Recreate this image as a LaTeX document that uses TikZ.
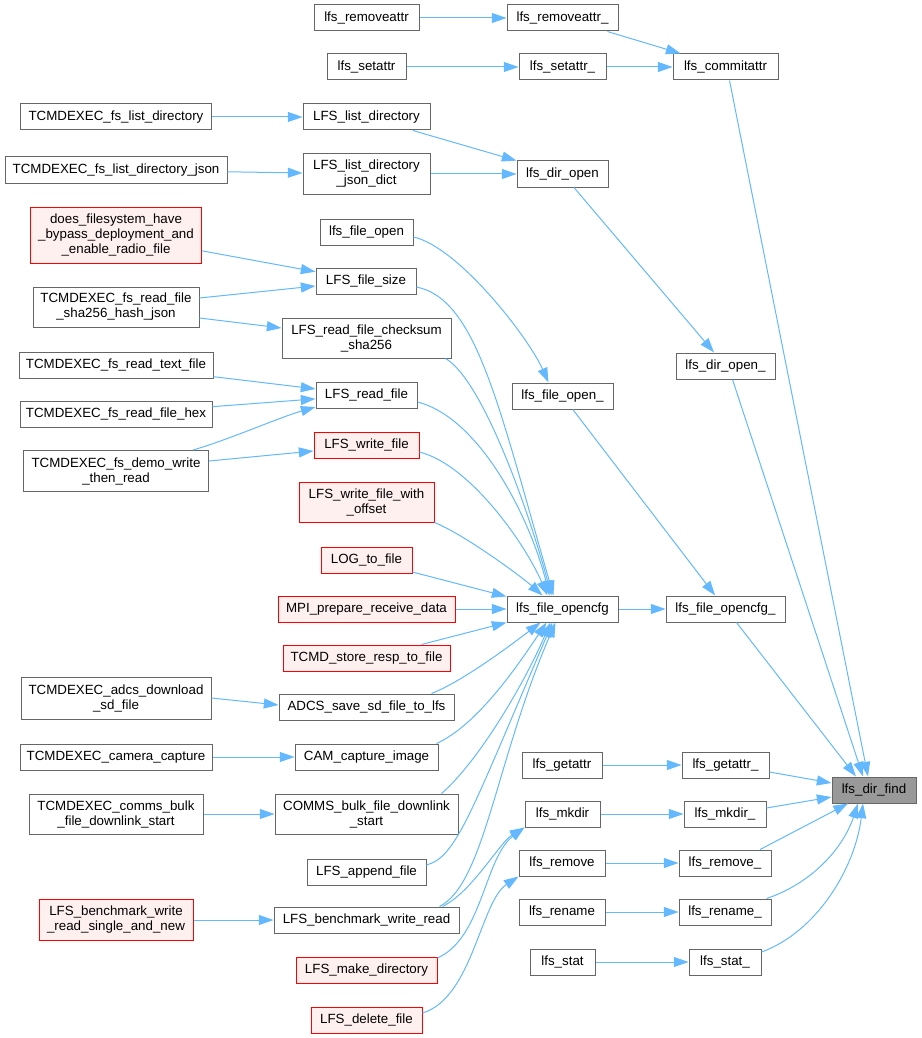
\documentclass[tikz,border=0pt]{standalone}
\usepackage{fontspec}
\setmainfont{Liberation Sans}
\usetikzlibrary{calc,arrows.meta}
\definecolor{boxgray}{HTML}{666666}
\definecolor{hotborder}{HTML}{FF0000}
\definecolor{hotfill}{HTML}{FFF0F0}
\definecolor{findfill}{HTML}{999999}
\definecolor{connblue}{HTML}{63B8FF}
\tikzset{
  box/.style={draw=boxgray, fill=white, line width=0.75pt, inner sep=0pt, align=center,
    font=\fontsize{10}{11.25}\selectfont},
  hot/.style={box, draw=hotborder, fill=hotfill},
  findbox/.style={box, fill=findfill},
  sz/.style 2 args={minimum width=#1*0.75pt, minimum height=#2*0.75pt},
  conn/.style={draw=connblue, line width=0.75pt, -{Triangle[length=11pt,width=7.5pt]}},
}
\begin{document}
\begin{tikzpicture}[x=0.75pt,y=-0.75pt]
\useasboundingbox (0,0) rectangle (921,1038);
% ---------- column 1 ----------
\node[box,sz={191}{26}] (listdirT) at (116,117) {TCMDEXEC\_fs\_list\_directory};
\node[box,sz={222}{26}] (listjsonT) at (116,170) {TCMDEXEC\_fs\_list\_directory\_json};
\node[hot,sz={171}{56}] (does) at (116,235) {does\_filesystem\_have\\\_bypass\_deployment\_and\\\_enable\_radio\_file};
\node[box,sz={166}{40}] (shaT) at (116,307) {TCMDEXEC\_fs\_read\_file\\\_sha256\_hash\_json};
\node[box,sz={194}{26}] (readtextT) at (116,365) {TCMDEXEC\_fs\_read\_text\_file};
\node[box,sz={192}{26}] (readhexT) at (116,414) {TCMDEXEC\_fs\_read\_file\_hex};
\node[box,sz={185}{41}] (demoT) at (116,471) {TCMDEXEC\_fs\_demo\_write\\\_then\_read};
\node[box,sz={190}{42}] (adcsT) at (116,698) {TCMDEXEC\_adcs\_download\\\_sd\_file};
\node[box,sz={192}{26}] (camT) at (116,757) {TCMDEXEC\_camera\_capture};
\node[box,sz={174}{40}] (commsT) at (116,814) {TCMDEXEC\_comms\_bulk\\\_file\_downlink\_start};
\node[hot,sz={154}{41}] (benchT) at (116,920) {LFS\_benchmark\_write\\\_read\_single\_and\_new};
% ---------- column 2 ----------
\node[box,sz={105}{26}] (removeattr) at (366.5,18) {lfs\_removeattr};
\node[box,sz={79}{26}] (setattr) at (366.5,67) {lfs\_setattr};
\node[box,sz={127}{26}] (lfslistdir) at (366.5,117) {LFS\_list\_directory};
\node[box,sz={127}{40}] (lfslistjson) at (366.5,174) {LFS\_list\_directory\\\_json\_dict};
\node[box,sz={93}{26}] (fileopen) at (366.5,232) {lfs\_file\_open};
\node[box,sz={100}{26}] (filesize) at (366,281) {LFS\_file\_size};
\node[box,sz={169}{40}] (checksum) at (366.5,338) {LFS\_read\_file\_checksum\\\_sha256};
\node[box,sz={101}{26}] (readfile) at (366.5,395) {LFS\_read\_file};
\node[hot,sz={105}{26}] (writefile) at (366.5,445) {LFS\_write\_file};
\node[hot,sz={135}{40}] (writeoffset) at (366.5,502) {LFS\_write\_file\_with\\\_offset};
\node[hot,sz={91}{26}] (logtofile) at (366.5,560) {LOG\_to\_file};
\node[hot,sz={177}{26}] (mpi) at (366.5,609) {MPI\_prepare\_receive\_data};
\node[hot,sz={167}{26}] (tcmdstore) at (366.5,658) {TCMD\_store\_resp\_to\_file};
\node[box,sz={175}{26}] (adcs) at (366.5,707) {ADCS\_save\_sd\_file\_to\_lfs};
\node[box,sz={143}{26}] (cam) at (366.5,757) {CAM\_capture\_image};
\node[box,sz={183}{40}] (comms) at (366.5,814) {COMMS\_bulk\_file\_downlink\\\_start};
\node[box,sz={119}{26}] (append) at (366.5,872) {LFS\_append\_file};
\node[box,sz={185}{26}] (bench) at (366.5,920) {LFS\_benchmark\_write\_read};
\node[hot,sz={141}{26}] (makedir) at (366.5,970) {LFS\_make\_directory};
\node[hot,sz={111}{26}] (delete) at (366.5,1020) {LFS\_delete\_file};
% ---------- column 3 ----------
\node[box,sz={111}{26}] (removeattrU) at (562.5,18) {lfs\_removeattr\_};
\node[box,sz={87}{26}] (setattrU) at (562.5,67) {lfs\_setattr\_};
\node[box,sz={91}{26}] (diropen) at (562.5,174) {lfs\_dir\_open};
\node[box,sz={101}{26}] (fileopenU) at (562.5,396) {lfs\_file\_open\_};
\node[box,sz={111}{26}] (opencfg) at (562.5,609) {lfs\_file\_opencfg};
\node[box,sz={80}{26}] (getattr) at (562,765) {lfs\_getattr};
\node[box,sz={75}{26}] (mkdir) at (562.5,814) {lfs\_mkdir};
\node[box,sz={86}{26}] (remove) at (562,863) {lfs\_remove};
\node[box,sz={86}{26}] (rename) at (562,912) {lfs\_rename};
\node[box,sz={65}{26}] (stat) at (562.5,962) {lfs\_stat};
% ---------- column 4 ----------
\node[box,sz={105}{26}] (commitattr) at (725.5,67) {lfs\_commitattr};
\node[box,sz={99}{26}] (diropenU) at (725.5,366) {lfs\_dir\_open\_};
\node[box,sz={119}{26}] (opencfgU) at (725.5,609) {lfs\_file\_opencfg\_};
\node[box,sz={87}{26}] (getattrU) at (725.5,765) {lfs\_getattr\_};
\node[box,sz={82}{26}] (mkdirU) at (725,814) {lfs\_mkdir\_};
\node[box,sz={92}{26}] (removeU) at (725,863) {lfs\_remove\_};
\node[box,sz={92}{26}] (renameU) at (725,912) {lfs\_rename\_};
\node[box,sz={72}{26}] (statU) at (725,962) {lfs\_stat\_};
% ---------- column 5 ----------
\node[findbox,sz={84}{26}] (dirfind) at (874,790) {lfs\_dir\_find};

% ---------- connectors ----------
\draw[conn] (removeattr) -- (removeattrU);
\draw[conn] (setattr) -- (setattrU);
\draw[conn] (removeattrU) -- (commitattr);
\draw[conn] (setattrU) -- (commitattr);
\draw[conn] ($(commitattr.south)+(4,0)$) -- ($(dirfind.north)+(-6,0)$);
\draw[conn] (listdirT) -- (lfslistdir);
\draw[conn] (listjsonT) -- (lfslistjson);
\draw[conn] (lfslistdir) -- (diropen);
\draw[conn] (lfslistjson) -- (diropen);
\draw[conn] (diropen) -- (diropenU);
\draw[conn] ($(diropenU.south)+(7,0)$) -- ($(dirfind.north)+(-11,0)$);
\draw[conn] (does) -- (filesize);
\draw[conn] ($(shaT.east)+(0,-9)$) -- ($(filesize.west)+(0,5)$);
\draw[conn] ($(shaT.east)+(0,11)$) -- ($(checksum.west)+(0,-10)$);
\draw[conn] ($(fileopen.east)+(0,5)$) .. controls +(45,10) and +(-20,-45) .. ($(fileopenU.north)+(-14,0)$);
\draw[conn] (fileopenU) -- (opencfgU);
\draw[conn] ($(filesize.east)+(0,6)$) .. controls +(60,12) and +(-55,-190) .. ($(opencfg.north)+(-9,0)$);
\draw[conn] ($(checksum.south east)+(-6,0)$) .. controls +(35,20) and +(-26,-96) .. ($(opencfg.north)+(-11,0)$);
\draw[conn] (readtextT) -- (readfile);
\draw[conn] (readhexT) -- (readfile);
\draw[conn] ($(demoT.north)+(77,0)$) .. controls +(35,-10) and +(-35,10) .. ($(readfile.west)+(0,12)$);
\draw[conn] ($(demoT.east)+(0,-10)$) -- ($(writefile.west)+(0,6)$);
\draw[conn] ($(readfile.east)+(0,7)$) .. controls +(63,16) and +(-19,-76) .. ($(opencfg.north)+(-13,0)$);
\draw[conn] ($(writefile.east)+(0,7)$) .. controls +(51,13) and +(-22,-51) .. ($(opencfg.north)+(-15,0)$);
\draw[conn] (writeoffset.south east) .. controls +(30,12) and +(-20,-18) .. ($(opencfg.north)+(-20,0)$);
\draw[conn] ($(logtofile.east)+(0,12)$) -- ($(opencfg.north west)+(0,1)$);
\draw[conn] (mpi) -- (opencfg);
\draw[conn] ($(tcmdstore.north)+(55,0)$) -- (opencfg.south west);
\draw[conn] (adcsT.east) -- ($(adcs.west)+(0,-2)$);
\draw[conn] ($(adcs.north)+(65,0)$) .. controls +(33,-13) and +(-25,19) .. ($(opencfg.south)+(-22,0)$);
\draw[conn] (camT) -- (cam);
\draw[conn] ($(cam.north)+(70,0)$) .. controls +(40,-18) and +(-30,45) .. ($(opencfg.south)+(-16,0)$);
\draw[conn] (commsT) -- (comms);
\draw[conn] ($(comms.north)+(75,0)$) .. controls +(35,-30) and +(-28,65) .. ($(opencfg.south)+(-12,0)$);
\draw[conn] ($(append.east)+(0,-7)$) .. controls +(30,-8) and +(-82,191) .. ($(opencfg.south)+(-10,0)$);
\draw[conn] (benchT) -- (bench);
\draw[conn] ($(bench.north)+(73,0)$) .. controls +(45,-23) and +(-60,139) .. ($(opencfg.south)+(-7,0)$);
\draw[conn] ($(bench.north)+(76,0)$) .. controls +(30,-15) and +(-25,15) .. (mkdir.south west);
\draw[conn] ($(makedir.east)+(0,-12)$) .. controls +(45,-20) and +(-40,30) .. (mkdir.south west);
\draw[conn] ($(delete.east)+(0,-7)$) .. controls +(50,-15) and +(-38,25) .. (remove.south west);
\draw[conn] (opencfg) -- (opencfgU);
\draw[conn] ($(opencfgU.south)+(11,0)$) -- ($(dirfind.north)+(-18,0)$);
\draw[conn] (getattr) -- (getattrU);
\draw[conn] (mkdir) -- (mkdirU);
\draw[conn] (remove) -- (removeU);
\draw[conn] (rename) -- (renameU);
\draw[conn] (stat) -- (statU);
\draw[conn] ($(getattrU.east)+(0,7)$) -- ($(dirfind.west)+(0,-7)$);
\draw[conn] ($(mkdirU.east)+(0,-6)$) -- ($(dirfind.west)+(0,7)$);
\draw[conn] ($(removeU.north)+(35,0)$) -- ($(dirfind.south)+(-26,0)$);
\draw[conn] ($(renameU.north east)+(-5,0)$) .. controls +(45,-15) and +(-15,45) .. ($(dirfind.south)+(-16,0)$);
\draw[conn] ($(statU.east)+(0,-10)$) .. controls +(55,-20) and +(-8,65) .. ($(dirfind.south)+(-11,0)$);
\end{tikzpicture}
\end{document}
